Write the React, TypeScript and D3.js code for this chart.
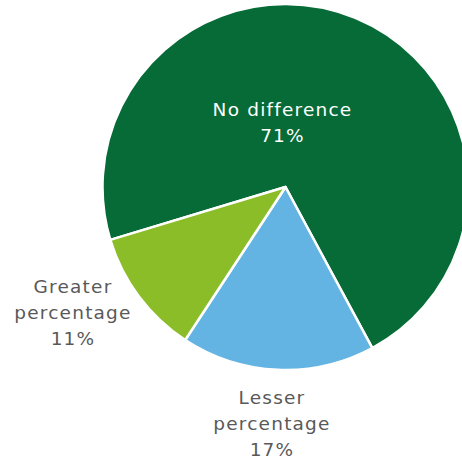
import React from "react";
import * as d3 from "d3";

const categories = ["No difference", "Lesser percentage", "Greater percentage"];
const values = [71.8, 17.1, 11.1];
const valueLabels = ["71%", "17%", "11%"];
const colors = ["#066B37", "#63B4E3", "#8ABD28"];

const W = 462;
const H = 459;
const cx = 285.5;
const cy = 187;
const R = 183;

export default function App() {
  const start = (-106.8 * Math.PI) / 180;
  const pie = d3
    .pie<number>()
    .sort(null)
    .startAngle(start)
    .endAngle(start + 2 * Math.PI);
  const arcs = pie(values);
  const arc = d3.arc<d3.PieArcDatum<number>>().innerRadius(0).outerRadius(R);

  const labelPos: [number, number, string][] = [
    [282.5, 116, "#FFFFFF"],
    [272, 404, "#595959"],
    [73, 293, "#595959"],
  ];

  return (
    <svg
      width={W}
      height={H}
      style={{ position: "absolute", left: 0, top: 0 }}
      fontFamily="'DejaVu Sans', Verdana, sans-serif"
    >
      <g transform={`translate(${cx},${cy})`}>
        {arcs.map((a, i) => (
          <path key={i} d={arc(a) || ""} fill={colors[i]} stroke="#FFFFFF" strokeWidth={2.5} strokeLinejoin="round" />
        ))}
      </g>
      {categories.map((c, i) => {
        const [x, y, col] = labelPos[i];
        const words = i === 0 ? [c] : c.split(" ");
        const lines = [...words, valueLabels[i]];
        return (
          <text key={i} textAnchor="middle" fill={col} fontSize={18.5} letterSpacing={1.2}>
            {lines.map((l, j) => (
              <tspan key={j} x={x} y={y + j * 26}>
                {l}
              </tspan>
            ))}
          </text>
        );
      })}
    </svg>
  );
}
